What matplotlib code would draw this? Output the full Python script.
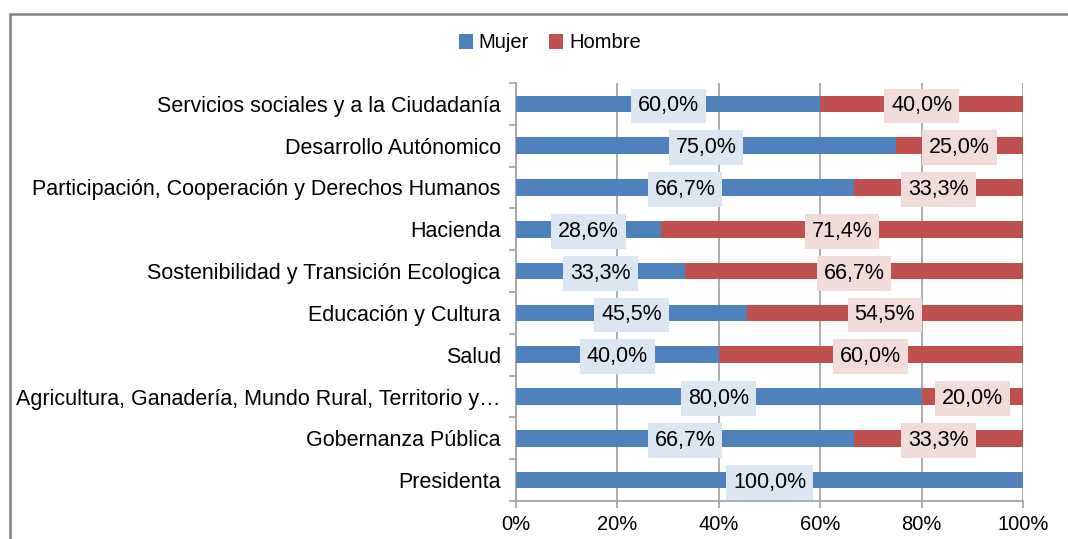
import matplotlib
matplotlib.use("Agg")
import matplotlib.pyplot as plt
from matplotlib.patches import Rectangle
from matplotlib.ticker import FuncFormatter, MultipleLocator

plt.rcParams["font.family"] = ["Liberation Sans", "DejaVu Sans"]

categories = [
    "Servicios sociales y a la Ciudadanía",
    "Desarrollo Autónomico",
    "Participación, Cooperación y Derechos Humanos",
    "Hacienda",
    "Sostenibilidad y Transición Ecologica",
    "Educación y Cultura",
    "Salud",
    "Agricultura, Ganadería, Mundo Rural, Territorio y…",
    "Gobernanza Pública",
    "Presidenta",
]
mujer = [60.0, 75.0, 66.7, 28.6, 33.3, 45.5, 40.0, 80.0, 66.7, 100.0]
hombre = [40.0, 25.0, 33.3, 71.4, 66.7, 54.5, 60.0, 20.0, 33.3, 0.0]

BLUE, RED = "#4F81BD", "#C0504D"
BLUE_BOX, RED_BOX = "#DCE6F2", "#F2DCDB"
GRID = "#A0A0A0"
FS = 14.5
FS_CAT = 15.5
FS_VAL = 15.5

fig = plt.figure(figsize=(10.68, 5.39), dpi=100)
ax = fig.add_axes([516 / 1068, 1 - 501 / 539, 507 / 1068, (501 - 83) / 539])

# outer chart frame (only left and top edges visible in the crop)
fig.patches.append(Rectangle((9.5 / 1068, -0.1), 1.2, 1 - 13.5 / 539 + 0.1,
                             transform=fig.transFigure, fill=False,
                             edgecolor="#808080", linewidth=1.8))

y = list(range(len(categories)))[::-1]
ax.barh(y, mujer, height=0.4, color=BLUE, label="Mujer", zorder=3)
ax.barh(y, hombre, left=mujer, height=0.4, color=RED, label="Hombre", zorder=3)

for yi, m, h in zip(y, mujer, hombre):
    if m > 0:
        ax.text(m / 2, yi - 0.05, f"{m:.1f}%".replace(".", ","), ha="center", va="center",
                fontsize=FS_VAL, zorder=5,
                bbox=dict(boxstyle="square,pad=0.32", facecolor=BLUE_BOX, edgecolor="none"))
    if h > 0:
        ax.text(m + h / 2, yi - 0.05, f"{h:.1f}%".replace(".", ","), ha="center", va="center",
                fontsize=FS_VAL, zorder=5,
                bbox=dict(boxstyle="square,pad=0.32", facecolor=RED_BOX, edgecolor="none"))

ax.set_xlim(0, 100)
ax.set_ylim(-0.5, len(categories) - 0.5)
ax.xaxis.set_major_locator(MultipleLocator(20))
ax.xaxis.set_major_formatter(FuncFormatter(lambda v, p: f"{v:.0f}%"))
ax.set_yticks(y)
ax.set_yticklabels(categories)
ax.set_yticks([i - 0.5 for i in range(len(categories) + 1)], minor=True)
ax.tick_params(axis="y", which="major", length=0, pad=11, labelsize=FS_CAT)
ax.tick_params(axis="y", which="minor", length=5, color=GRID, width=1.2)
ax.tick_params(axis="x", length=5, color=GRID, width=1.2, labelsize=FS, pad=5)
ax.grid(axis="x", color=GRID, linewidth=1.2, zorder=0)
for s in ["top", "right"]:
    ax.spines[s].set_visible(False)
for s in ["left", "bottom"]:
    ax.spines[s].set_color(GRID)
    ax.spines[s].set_linewidth(1.2)

fig.legend(loc="center", bbox_to_anchor=(550 / 1068, 1 - 43 / 539), ncol=2, frameon=False,
           fontsize=FS, handlelength=0.7, handleheight=0.7, handletextpad=0.3,
           columnspacing=1.0)

fig.savefig("out.png", dpi=100)
